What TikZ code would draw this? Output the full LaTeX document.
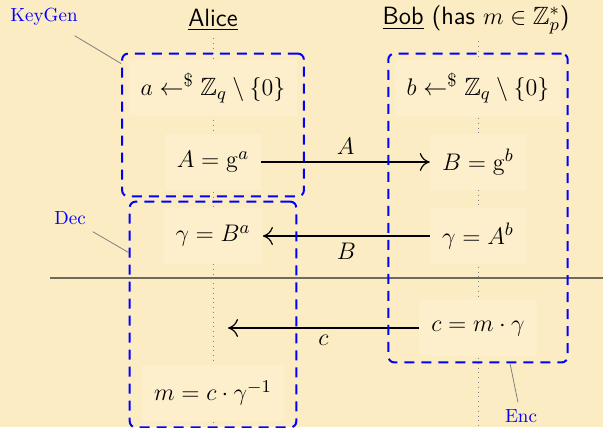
\documentclass[tikz,border=0pt]{standalone}
\usepackage{amssymb}
\usetikzlibrary{positioning,arrows.meta,fit}
\definecolor{slidebg}{RGB}{252,236,196}
\definecolor{nodebg}{RGB}{253,239,204}
\definecolor{rulegray}{RGB}{110,106,96}

\begin{document}
\begin{tikzpicture}[x=0.5pt,y=-0.5pt,
    font=\fontsize{12.5}{15}\selectfont,
    party/.style={font=\fontsize{12.5}{15}\selectfont\sffamily},
    calcbox/.style={fill=nodebg,minimum height=28pt,inner xsep=6pt},
    phase/.style={draw=blue,dash pattern=on 5pt off 3.5pt,line width=1pt,
                  rounded corners=3pt,inner sep=3pt},
    phaselbl/.style={text=blue,font=\fontsize{9.5}{11}\selectfont},
    msg/.style={semithick,-{Computer Modern Rightarrow[length=5pt,width=9pt]}}]
  \fill[slidebg] (0,0) rectangle (603,427);
  \useasboundingbox (0,0) rectangle (603,427);
  % parties and their time lines
  \node[party] (alice) at (213,20) {\underline{Alice}};
  \node[party] (bob) at (476,20) {\underline{Bob} (has $m\in\mathbb{Z}_p^*$)};
  \coordinate (aend) at (213,427);
  \coordinate (bend) at (478,427);
  \draw[gray,dotted] (alice.south) -- (aend);
  \draw[gray,dotted] (bend |- bob.south) -- (bend);
  % separator
  \coordinate (sepl) at (50,278);
  \coordinate (sepr) at (603,278);
  \draw[rulegray,line width=0.75pt] (sepl) -- (sepr);
  % computations
  \node[calcbox] (a1) at (213,88) {$a\leftarrow^{\$}\mathbb{Z}_q\setminus\{0\}$};
  \node[calcbox] (b1) at (478,88) {$b\leftarrow^{\$}\mathbb{Z}_q\setminus\{0\}$};
  \node[calcbox] (a2) at (213,162) {$A=\mathrm{g}^a$};
  \node[calcbox] (b2) at (478,162) {$B=\mathrm{g}^b$};
  \node[calcbox] (a3) at (213,236) {$\gamma=B^a$};
  \node[calcbox] (b3) at (478,236) {$\gamma=A^b$};
  \node[calcbox] (b4) at (478,328) {$c=m\cdot\gamma$};
  \coordinate (a4) at (228,328);
  \node[calcbox] (a5) at (213,393) {$m=c\cdot\gamma^{-1}$};
  % messages
  \draw[msg] (a2) -- node[above] {$A$} (b2);
  \draw[msg] (b3) -- node[below] {$B$} (a3);
  \draw[msg] (b4) -- node[below] {$c$} (a4);
  % phases
  \node[phase,fit=(a1)(a2)] (kgbox) {};
  \node[phase,fit=(b1)(b4)] (encbox) {};
  \node[phase,inner xsep=6pt,fit=(a3)(a5)] (decbox) {};
  \node[phaselbl] (keygen) at (44,17) {KeyGen};
  \node[phaselbl] (dec) at (70,218) {Dec};
  \node[phaselbl] (enc) at (521,416) {Enc};
  \draw[gray] ([shift={(-5pt,-1.5pt)}]keygen.south east) -- ([yshift=-5.5pt]kgbox.north west);
  \draw[gray] (dec.south east) -- ([yshift=-26pt]decbox.north west);
  \draw[gray] ([xshift=16pt]encbox.south) -- ([xshift=-1.5pt]enc.north);
\end{tikzpicture}
\end{document}
